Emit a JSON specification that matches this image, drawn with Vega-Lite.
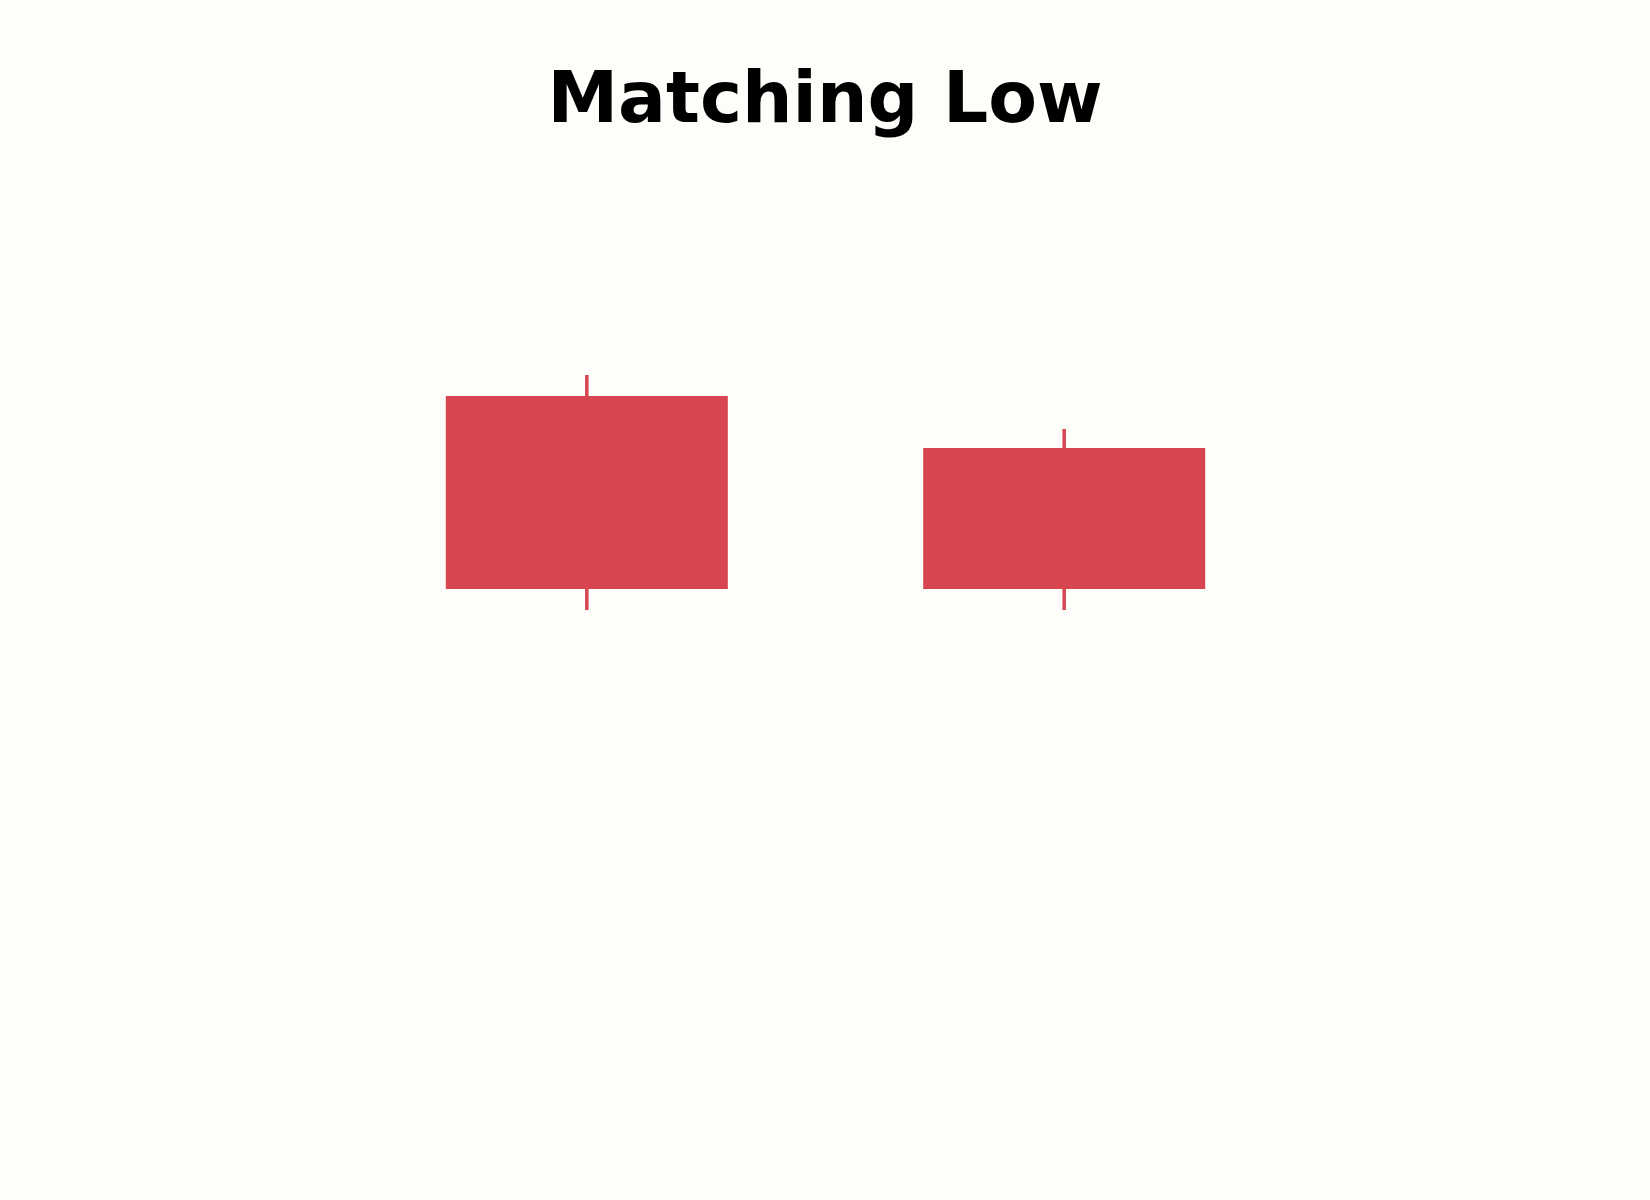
{
  "$schema": "https://vega.github.io/schema/vega-lite/v6.json",
  "width": 1650,
  "height": 1050,
  "autosize": "none",
  "padding": {"left": 0, "right": 0, "top": 150, "bottom": 0},
  "background": "#fdfdf9",
  "title": {
    "text": "Matching Low",
    "font": "DejaVu Sans",
    "fontSize": 71,
    "fontWeight": "bold",
    "color": "#000000",
    "anchor": "middle",
    "baseline": "alphabetic",
    "offset": 29,
    "dy": 72
  },
  "data": {
    "values": [
      {"day": 1, "open": 80.4, "high": 82.5, "low": 59.0, "close": 61.1},
      {"day": 2, "open": 75.2, "high": 77.1, "low": 59.0, "close": 61.1}
    ]
  },
  "encoding": {
    "x": {
      "field": "day",
      "type": "quantitative",
      "scale": {"domain": [-0.2188, 3.2167], "nice": false, "zero": false},
      "axis": null
    }
  },
  "layer": [
    {
      "mark": {"type": "rule", "color": "#d74551", "strokeWidth": 3.5},
      "encoding": {
        "y": {
          "field": "low",
          "type": "quantitative",
          "scale": {"domain": [0, 105], "nice": false, "zero": false},
          "axis": null
        },
        "y2": {"field": "high"}
      }
    },
    {
      "mark": {"type": "bar", "color": "#d74551", "size": 282},
      "encoding": {
        "y": {"field": "open", "type": "quantitative"},
        "y2": {"field": "close"}
      }
    }
  ],
  "config": {
    "view": {"stroke": null},
    "axis": {"grid": false}
  }
}
